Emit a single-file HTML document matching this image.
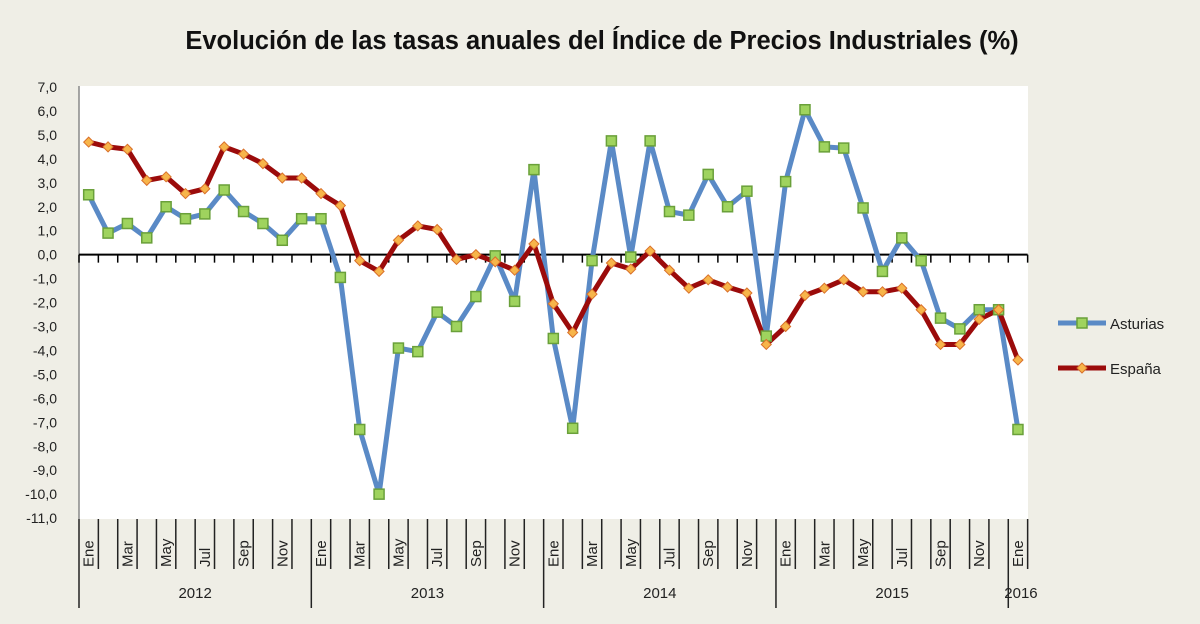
<!DOCTYPE html>
<html><head><meta charset="utf-8"><style>
body{margin:0;width:1200px;height:624px;background:#efeee6;overflow:hidden;font-family:"Liberation Sans",sans-serif}
svg{position:absolute;left:0;top:0}
</style></head><body>
<svg width="1200" height="624">
<rect x="0" y="0" width="1200" height="624" fill="#efeee6"/>
<text x="602" y="49" text-anchor="middle" font-size="25.5" font-weight="bold" fill="#111">Evolución de las tasas anuales del Índice de Precios Industriales (%)</text>
<rect x="79" y="86" width="949" height="433" fill="#fff"/>
<g id="axes"></g><g id="series"></g>
<g>
<line x1="1058" y1="323" x2="1106" y2="323" stroke="#5a8ac6" stroke-width="5"/>
<rect x="1077" y="318" width="10" height="10" fill="#9fd35e" stroke="#6aa03a" stroke-width="1.5"/>
<text x="1110" y="329" font-size="15" fill="#222">Asturias</text>
<line x1="1058" y1="368" x2="1106" y2="368" stroke="#9b0b0b" stroke-width="5"/>
<path d="M1082 363 L1087 368 L1082 373 L1077 368Z" fill="#f7b54a" stroke="#d9702a"/>
<text x="1110" y="374" font-size="15" fill="#222">España</text>
</g>
</svg>
<script>
const months=["Ene","Feb","Mar","Abr","May","Jun","Jul","Ago","Sep","Oct","Nov","Dic"];
const years=["2012","2013","2014","2015","2016"];
const yTicks=[7,6,5,4,3,2,1,0,-1,-2,-3,-4,-5,-6,-7,-8,-9,-10,-11];
const asturias=[2.5,0.9,1.3,0.7,2.0,1.5,1.7,2.7,1.8,1.3,0.6,1.5,1.5,-0.95,-7.3,-10.0,-3.9,-4.05,-2.4,-3.0,-1.75,-0.05,-1.95,3.55,-3.5,-7.25,-0.25,4.75,-0.1,4.75,1.8,1.65,3.35,2.0,2.65,-3.4,3.05,6.05,4.5,4.45,1.95,-0.7,0.7,-0.25,-2.65,-3.1,-2.3,-2.3,-7.3];
const espana=[4.7,4.5,4.4,3.1,3.25,2.55,2.75,4.5,4.2,3.8,3.2,3.2,2.55,2.05,-0.25,-0.7,0.6,1.2,1.05,-0.2,0.0,-0.3,-0.65,0.45,-2.05,-3.25,-1.65,-0.35,-0.6,0.15,-0.65,-1.4,-1.05,-1.35,-1.6,-3.75,-3.0,-1.7,-1.4,-1.05,-1.55,-1.55,-1.4,-2.3,-3.75,-3.75,-2.7,-2.3,-4.4];
const X0=79,CW=19.36,Y7=87,UNIT=23.95;
const xs=i=>X0+CW*(i+0.5);
const ys=v=>Y7+(7-v)*UNIT;
const NS="http://www.w3.org/2000/svg";
function mk(tag,attrs,parent){const e=document.createElementNS(NS,tag);for(const k in attrs)e.setAttribute(k,attrs[k]);parent.appendChild(e);return e;}
const ax=document.getElementById('axes'),sr=document.getElementById('series');
let l=mk('line',{x1:X0,y1:86,x2:X0,y2:519,stroke:'#888','stroke-width':1.5},ax);


yTicks.forEach(v=>{
 const t=mk('text',{x:57,y:ys(v)+5,'text-anchor':'end','font-size':14,fill:'#222'},ax);
 t.textContent=v.toFixed(1).replace('.',',');
 
 
});
const n=asturias.length;
l=mk('line',{x1:X0,y1:ys(0),x2:X0+CW*n,y2:ys(0),stroke:'#000','stroke-width':2},ax);


for(let i=0;i<=n;i++){
 const x=X0+CW*i;
 let t=mk('line',{x1:x,y1:ys(0),x2:x,y2:ys(0)+8,stroke:'#000','stroke-width':1.5},ax);
 
 
 const yr=(i%12===0);
 t=mk('line',{x1:x,y1:519,x2:x,y2:yr?608:569,stroke:'#222','stroke-width':1.5},ax);
 
 
}
for(let i=0;i<n;i+=2){
 const x=xs(i)+5,y=567;
 const t=mk('text',{x:x,y:y,transform:`rotate(-90 ${x} ${y})`,'font-size':15,fill:'#222'},ax);
 t.textContent=months[i%12];
 
 
}
years.forEach((yv,k)=>{
 const s=k*12,e=Math.min(s+12,n);
 const x=k===4?xs(s)+3:X0+CW*(s+e)/2;
 const t=mk('text',{x:x,y:598,'text-anchor':'middle','font-size':15,fill:'#222'},ax);
 t.textContent=yv;
 
 
});
function line(data,color,name){
 const p=mk('polyline',{points:data.map((v,i)=>xs(i)+','+ys(v)).join(' '),fill:'none',stroke:color,'stroke-width':5,'stroke-linejoin':'round'},sr);
 
 
}
line(asturias,'#5a8ac6','asturias-line');
line(espana,'#9b0b0b','espana-line');
asturias.forEach((v,i)=>{
 const r=mk('rect',{x:xs(i)-5,y:ys(v)-5,width:10,height:10,fill:'#9fd35e',stroke:'#6aa03a','stroke-width':1.5},sr);
 
 
});
espana.forEach((v,i)=>{
 const x=xs(i),y=ys(v);
 const r=mk('path',{d:`M${x} ${y-5}L${x+5} ${y}L${x} ${y+5}L${x-5} ${y}Z`,fill:'#f7b54a',stroke:'#d9702a','stroke-width':1},sr);
 
 
});
</script>
</body></html>
